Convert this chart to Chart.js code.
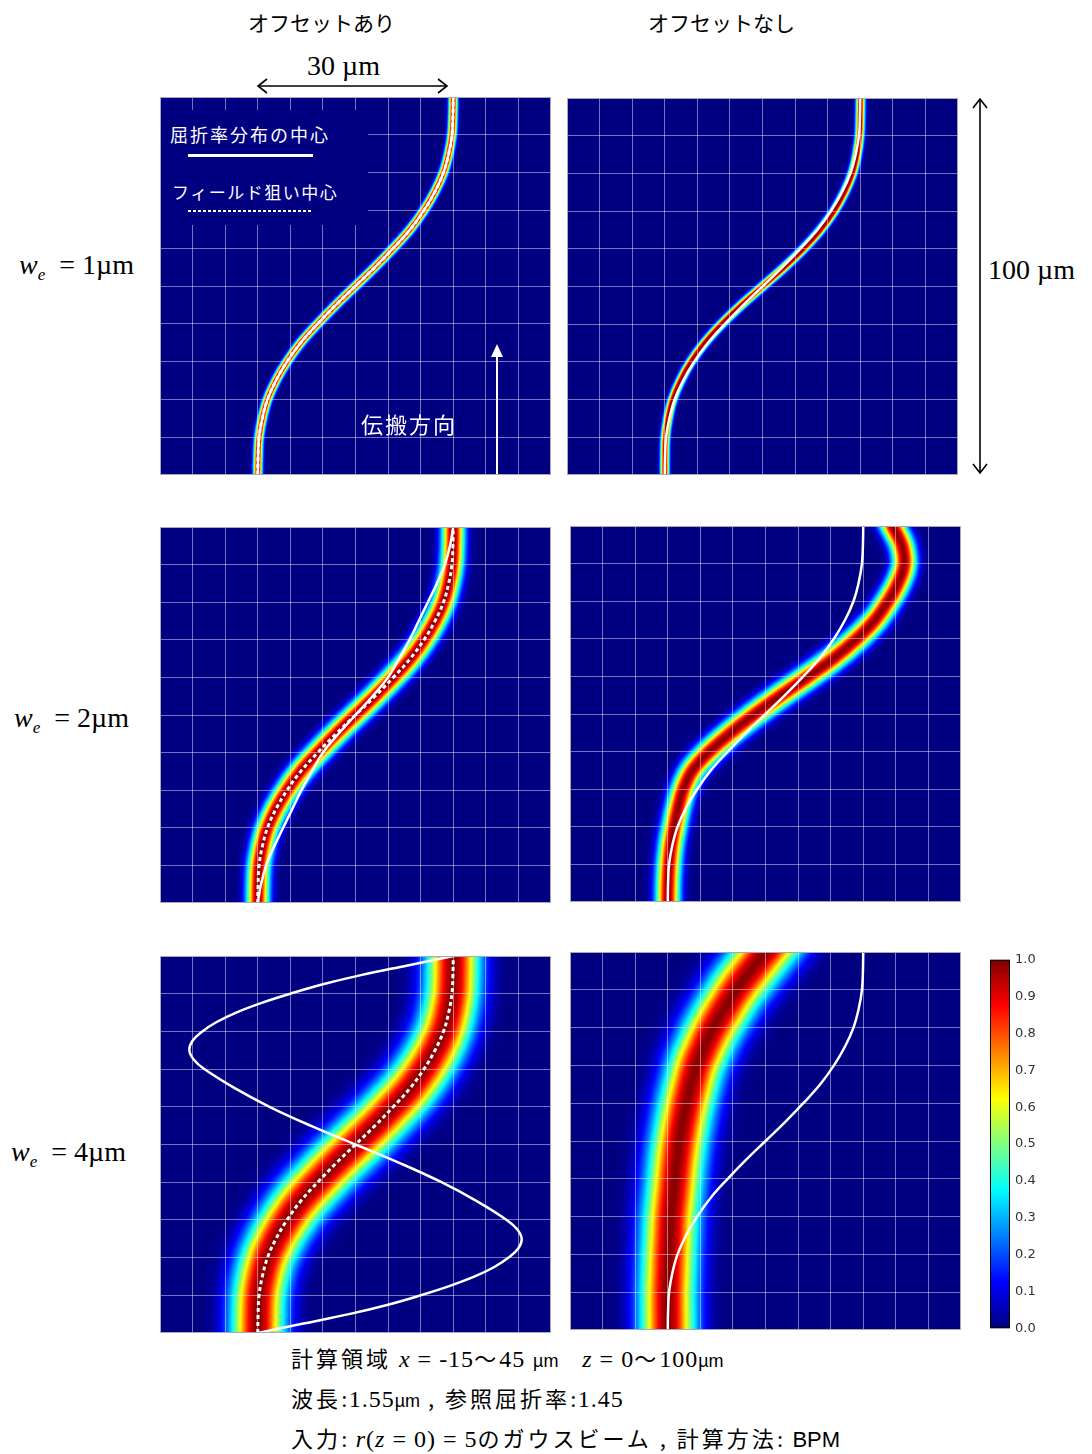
<!DOCTYPE html>
<html lang="ja">
<head>
<meta charset="utf-8">
<script src="https://cdn.jsdelivr.net/npm/chart.js@4.4.1/dist/chart.umd.min.js"></script>
<style>
  body { margin: 0; background: #fff; }
  #page { position: relative; width: 1092px; height: 1454px; overflow: hidden;
          font-family: "Noto Sans CJK JP", sans-serif; color: #000; }
  .pane { position: absolute; display: block; }
  .t { position: absolute; white-space: nowrap; line-height: 1; }
  .serif { font-family: "Liberation Serif", serif; }
  .sans { font-family: "Liberation Sans", sans-serif; }
  .we { font-size: 28px; }
  .we sub { font-size: 17px; vertical-align: -6px; font-style: italic; }
  #legendBox { position: absolute; left: 161px; top: 110px; width: 207px; height: 115px; background: #000080; }
  .bottom { font-size: 22px; letter-spacing: 3px; }
  .bottom .serif { font-size: 24px; letter-spacing: 1px; }
  .bottom .sans { letter-spacing: 0; }
  svg { position: absolute; left: 0; top: 0; }
</style>
</head>
<body>
<div id="page">
  <canvas id="p1l" class="pane" width="391" height="378" style="left:160px;top:97px"></canvas>
  <canvas id="p1r" class="pane" width="391" height="377" style="left:567px;top:98px"></canvas>
  <canvas id="p2l" class="pane" width="391" height="376" style="left:160px;top:527px"></canvas>
  <canvas id="p2r" class="pane" width="391" height="376" style="left:570px;top:526px"></canvas>
  <canvas id="p3l" class="pane" width="391" height="377" style="left:160px;top:956px"></canvas>
  <canvas id="p3r" class="pane" width="391" height="378" style="left:570px;top:952px"></canvas>
  <canvas id="cbar" class="pane" width="70" height="394" style="left:990px;top:947px"></canvas>

  <div id="legendBox"></div>
  <div class="t" style="left:170px;top:125px;font-size:18px;letter-spacing:2px;color:#fff">屈折率分布の中心</div>
  <div style="position:absolute;left:188px;top:154px;width:125px;height:3px;background:#fff"></div>
  <div class="t" style="left:172px;top:183px;font-size:17px;letter-spacing:1.5px;color:#fff">フィールド狙い中心</div>
  <div style="position:absolute;left:188px;top:210px;width:123px;height:2px;background:repeating-linear-gradient(90deg,#fff 0 3px,transparent 3px 5px)"></div>
  <div class="t" style="left:361px;top:412px;font-size:22px;letter-spacing:2px;color:#fff">伝搬方向</div>

  <div class="t" style="left:248px;top:12px;font-size:21px">オフセットあり</div>
  <div class="t" style="left:648px;top:12px;font-size:21px">オフセットなし</div>
  <div class="t serif" style="left:307px;top:52px;font-size:28px">30 µm</div>
  <div class="t serif" style="left:988px;top:256px;font-size:28px">100 µm</div>

  <div class="t serif we" style="left:19px;top:251px"><i>w</i><sub>e</sub>&nbsp; =&nbsp;1µm</div>
  <div class="t serif we" style="left:14px;top:704px"><i>w</i><sub>e</sub>&nbsp; =&nbsp;2µm</div>
  <div class="t serif we" style="left:11px;top:1138px"><i>w</i><sub>e</sub>&nbsp; =&nbsp;4µm</div>

  <div class="t bottom" style="left:291px;top:1346px">計算領域 <span class="serif"><i>x</i> = -15</span>〜<span class="serif">45</span> <span class="sans" style="font-size:18px">µm</span>&nbsp;&nbsp; <span class="serif"><i>z</i> = 0</span>〜<span class="serif">100</span><span class="sans" style="font-size:18px">µm</span></div>
  <div class="t bottom" style="left:291px;top:1386px">波長<span class="serif">:1.55</span><span class="sans" style="font-size:18px">µm</span> , 参照屈折率<span class="serif">:1.45</span></div>
  <div class="t bottom" style="left:291px;top:1426px">入力<span class="serif">: <i>r</i>(<i>z</i> = 0) = 5</span>のガウスビーム , 計算方法<span class="serif">:</span> <span class="sans">BPM</span></div>

  <svg width="1092" height="1454">
    <g stroke="#000" stroke-width="1.6" fill="none">
      <line x1="258" y1="86" x2="447" y2="86"/>
      <polyline points="267,79 258,86 267,93"/>
      <polyline points="438,79 447,86 438,93"/>
      <line x1="980" y1="99" x2="980" y2="473"/>
      <polyline points="973,108 980,99 987,108"/>
      <polyline points="973,464 980,473 987,464"/>
    </g>
    <line x1="497" y1="474" x2="497" y2="355" stroke="#fff" stroke-width="2"/>
    <polygon points="491,357 503,357 497,344" fill="#fff"/>
  </svg>
</div>

<script>
// 計算領域 (µm)
const xMin = -15, xMax = 45, zMin = 0, zMax = 100;
const xGridStep = 5, zGridStep = 10;

// 伝搬方向 z のサンプル位置 (µm)
const zSteps = [0, 5, 10, 15, 20, 25, 30, 35, 40, 45, 50, 55, 60, 65, 70, 75, 80, 85, 90, 95, 100];

// フィールド狙い中心 r(z) (オフセットなしの屈折率分布の中心も同じ)
const guideCenter    = [0, 0.05, 0.2, 0.7, 1.5, 2.8, 4.5, 6.6, 9.2, 12.0, 15, 18.0, 20.8, 23.4, 25.5, 27.2, 28.5, 29.3, 29.8, 29.95, 30];
// オフセットありの屈折率分布の中心 (we = 2µm)
const offsetGuide2   = [0, 0.5, 1.3, 2.5, 3.9, 5.3, 6.7, 8.3, 10.0, 12.4, 15, 17.6, 20.0, 21.7, 23.3, 24.7, 26.1, 27.5, 28.7, 29.5, 30];
// オフセットなしの場合のフィールドの中心
const fieldNoOffset1 = [0, 0.02, 0.1, 0.5, 1.2, 2.4, 4.0, 6.1, 8.7, 11.7, 15, 18.3, 21.3, 23.9, 26.0, 27.6, 28.8, 29.5, 29.9, 30.0, 30.05];
const fieldNoOffset2 = [0, 0.05, 0.2, 0.5, 1.0, 1.6, 2.4, 3.8, 6.4, 9.7, 13.4, 17.4, 21.6, 25.6, 29.0, 31.8, 33.8, 35.4, 36.3, 35.9, 34.5];
const fieldNoOffset4 = [0, 0, 0, 0.1, 0.2, 0.35, 0.5, 0.8, 1.1, 1.4, 1.8, 2.3, 2.9, 3.6, 4.4, 5.6, 7.0, 8.7, 10.5, 12.7, 15.0];

// we = 4µm のオフセット付き屈折率分布の中心 (折り返し付近は細かく)
const zGuide4      = [0, 2.5, 5, 7.5, 10, 12.5, 15, 17.5, 20, 22.5, 25, 27.5, 30, 35, 40, 45, 50,
                      55, 60, 65, 70, 72.5, 75, 77.5, 80, 82.5, 85, 87.5, 90, 92.5, 95, 97.5, 100];
const offsetGuide4 = [0, 7, 14, 20, 25, 29.5, 33.3, 36.3, 38.5, 40, 40.5, 39.8, 38.2, 33.6, 28.2, 21.9, 15,
                      8.1, 1.8, -3.6, -8.2, -9.8, -10.5, -10, -8.5, -6.3, -3.3, 0.5, 5, 10, 16, 23, 30];

// カラーバーの目盛
const colorbarTicks = [0, 0.1, 0.2, 0.3, 0.4, 0.5, 0.6, 0.7, 0.8, 0.9, 1.0];

// 強度の等高線レベル (外側から描く)
const levels = Array.from({ length: 40 }, (_, i) => 0.0125 + i * 0.025);

function jet(v) {
  const c = t => Math.round(255 * Math.min(1, Math.max(0, t)));
  return `rgb(${c(1.5 - Math.abs(4 * v - 3))},${c(1.5 - Math.abs(4 * v - 2))},${c(1.5 - Math.abs(4 * v - 1))})`;
}

function pts(xs, zs = zSteps) {
  return zs.map((z, i) => ({ x: xs[i], y: z }));
}

// w: ガウス分布の幅 (µm)
const panels = [
  { id: 'p1l', field: pts(guideCenter),    w: 0.65, guide: pts(guideCenter),           aim: pts(guideCenter) },
  { id: 'p1r', field: pts(fieldNoOffset1), w: 0.65, guide: pts(guideCenter),           aim: null },
  { id: 'p2l', field: pts(guideCenter),    w: 1.7,  guide: pts(offsetGuide2),          aim: pts(guideCenter) },
  { id: 'p2r', field: pts(fieldNoOffset2), w: 1.8,  guide: pts(guideCenter),           aim: null },
  { id: 'p3l', field: pts(guideCenter),    w: 4.0,  guide: pts(offsetGuide4, zGuide4), aim: pts(guideCenter) },
  { id: 'p3r', field: pts(fieldNoOffset4), w: 4.15, guide: pts(guideCenter),           aim: null },
];

// 背景の塗りと枠線
const frame = {
  id: 'frame',
  beforeDraw(chart) {
    const { ctx, chartArea: a } = chart;
    ctx.save();
    ctx.fillStyle = '#000080';
    ctx.fillRect(a.left, a.top, a.width, a.height);
    ctx.restore();
  },
  afterDraw(chart) {
    const { ctx, chartArea: a } = chart;
    ctx.save();
    ctx.strokeStyle = '#a8a8b8';
    ctx.lineWidth = 1;
    ctx.strokeRect(a.left + 0.5, a.top + 0.5, a.width - 1, a.height - 1);
    ctx.restore();
  }
};

const lineBase = { pointRadius: 0, showLine: true, fill: false, tension: 0.4, clip: 0 };

panels.forEach(p => {
  const cv = document.getElementById(p.id);
  const pxPerUm = cv.width / (xMax - xMin);
  const datasets = levels.map(l => ({
    ...lineBase,
    data: p.field.map(d => ({ ...d })),
    borderColor: jet(l),
    borderWidth: 2 * p.w * pxPerUm * Math.sqrt(-Math.log(l)),
    borderCapStyle: 'square',
    borderJoinStyle: 'round'
  }));
  datasets.push({ ...lineBase, data: p.guide, borderColor: '#fff', borderWidth: 2.5 });
  if (p.aim) {
    datasets.push({ ...lineBase, data: p.aim, borderColor: '#fff', borderWidth: 3, borderDash: [4, 3] });
  }
  // Chart.js は後ろのデータセットから描くので、上に重ねたい順を逆にする
  datasets.reverse();
  new Chart(cv, {
    type: 'scatter',
    data: { datasets },
    options: {
      responsive: false,
      animation: false,
      events: [],
      layout: { padding: 0 },
      plugins: { legend: { display: false }, tooltip: { enabled: false } },
      scales: {
        x: {
          type: 'linear', min: xMin, max: xMax,
          ticks: { display: false, stepSize: xGridStep },
          grid: { color: 'rgba(255,255,255,0.45)', drawTicks: false, z: 1 },
          border: { display: false },
          afterFit: s => { s.height = 0; }
        },
        y: {
          type: 'linear', min: zMin, max: zMax,
          ticks: { display: false, stepSize: zGridStep },
          grid: { color: 'rgba(255,255,255,0.45)', drawTicks: false, z: 1 },
          border: { display: false },
          afterFit: s => { s.width = 0; }
        }
      }
    },
    plugins: [frame]
  });
});

// カラーバー
const barFill = {
  id: 'barFill',
  beforeDatasetsDraw(chart) {
    const { ctx, chartArea: a } = chart;
    const g = ctx.createLinearGradient(0, a.bottom, 0, a.top);
    for (let i = 0; i <= 50; i++) g.addColorStop(i / 50, jet(i / 50));
    ctx.save();
    ctx.fillStyle = g;
    ctx.fillRect(a.left, a.top, a.width, a.height);
    ctx.strokeStyle = '#000';
    ctx.lineWidth = 1;
    ctx.strokeRect(a.left + 0.5, a.top + 0.5, a.width - 1, a.height - 1);
    ctx.restore();
  }
};

new Chart(document.getElementById('cbar'), {
  type: 'scatter',
  data: { datasets: [] },
  options: {
    responsive: false,
    animation: false,
    events: [],
    layout: { padding: { top: 8, bottom: 8, left: 0, right: 0 } },
    plugins: { legend: { display: false }, tooltip: { enabled: false } },
    scales: {
      x: { display: false, min: 0, max: 1 },
      y: {
        position: 'right', min: 0, max: 1,
        afterBuildTicks: s => { s.ticks = colorbarTicks.map(v => ({ value: v })); },
        ticks: { callback: v => v.toFixed(1), font: { family: 'DejaVu Sans', size: 13 }, color: '#333', padding: 5 },
        grid: { display: false, drawTicks: false },
        border: { display: false },
        afterFit: s => { s.width = 50; }
      }
    }
  },
  plugins: [barFill]
});
</script>
</body>
</html>
